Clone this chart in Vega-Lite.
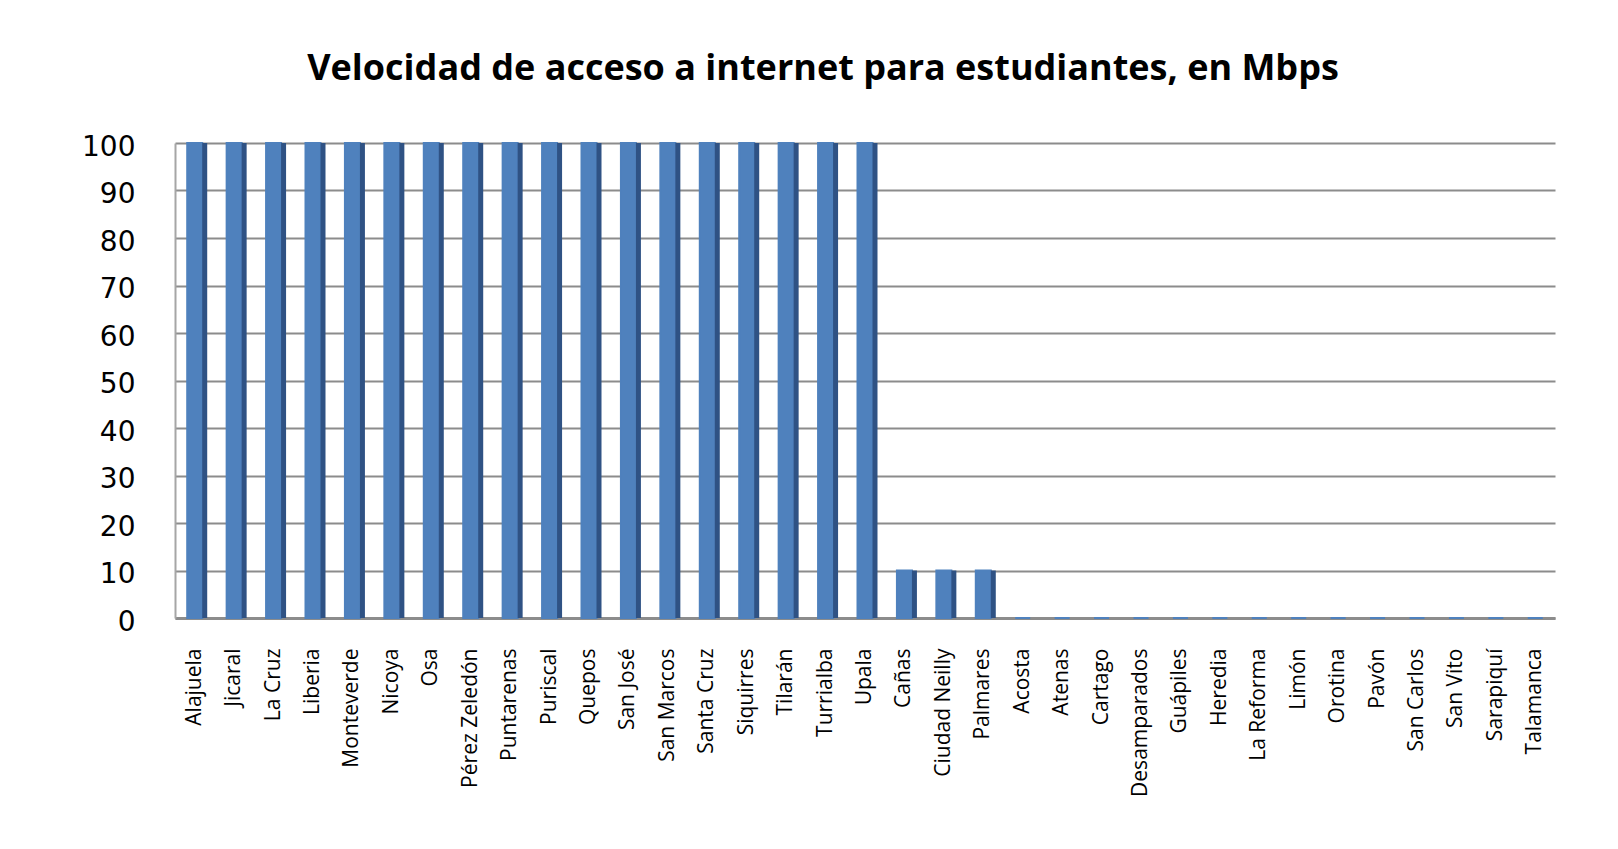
{
  "$schema": "https://vega.github.io/schema/vega-lite/v6.json",
  "autosize": {"type": "none"},
  "width": 1380,
  "height": 475,
  "padding": {"left": 175, "top": 143, "right": 63, "bottom": 231},
  "background": "white",
  "title": {
    "text": "Velocidad de acceso a internet para estudiantes, en Mbps",
    "font": "Open Sans",
    "fontSize": 36,
    "fontWeight": "bold",
    "color": "#000000",
    "anchor": "middle",
    "offset": 45,
    "dx": -42
  },
  "data": {
    "values": [
      {"sede": "Alajuela", "mbps": 100},
      {"sede": "Jicaral", "mbps": 100},
      {"sede": "La Cruz", "mbps": 100},
      {"sede": "Liberia", "mbps": 100},
      {"sede": "Monteverde", "mbps": 100},
      {"sede": "Nicoya", "mbps": 100},
      {"sede": "Osa", "mbps": 100},
      {"sede": "Pérez Zeledón", "mbps": 100},
      {"sede": "Puntarenas", "mbps": 100},
      {"sede": "Puriscal", "mbps": 100},
      {"sede": "Quepos", "mbps": 100},
      {"sede": "San José", "mbps": 100},
      {"sede": "San Marcos", "mbps": 100},
      {"sede": "Santa Cruz", "mbps": 100},
      {"sede": "Siquirres", "mbps": 100},
      {"sede": "Tilarán", "mbps": 100},
      {"sede": "Turrialba", "mbps": 100},
      {"sede": "Upala", "mbps": 100},
      {"sede": "Cañas", "mbps": 10},
      {"sede": "Ciudad Neilly", "mbps": 10},
      {"sede": "Palmares", "mbps": 10},
      {"sede": "Acosta", "mbps": 0},
      {"sede": "Atenas", "mbps": 0},
      {"sede": "Cartago", "mbps": 0},
      {"sede": "Desamparados", "mbps": 0},
      {"sede": "Guápiles", "mbps": 0},
      {"sede": "Heredia", "mbps": 0},
      {"sede": "La Reforma", "mbps": 0},
      {"sede": "Limón", "mbps": 0},
      {"sede": "Orotina", "mbps": 0},
      {"sede": "Pavón", "mbps": 0},
      {"sede": "San Carlos", "mbps": 0},
      {"sede": "San Vito", "mbps": 0},
      {"sede": "Sarapiquí", "mbps": 0},
      {"sede": "Talamanca", "mbps": 0}
    ]
  },
  "encoding": {
    "x": {
      "field": "sede",
      "type": "nominal",
      "sort": null,
      "scale": {"paddingInner": 0, "paddingOuter": 0},
      "axis": {
        "title": null,
        "labelAngle": -90,
        "labelFont": "Open Sans",
        "labelFontSize": 21,
        "labelColor": "#000000",
        "labelPadding": 30,
        "ticks": false,
        "domainColor": "#8c8c8c",
        "domainWidth": 3,
        "grid": false
      }
    },
    "y": {
      "field": "mbps",
      "type": "quantitative",
      "scale": {"domain": [0, 100], "nice": false},
      "axis": {
        "title": null,
        "values": [0, 10, 20, 30, 40, 50, 60, 70, 80, 90, 100],
        "labelFont": "DejaVu Sans",
        "labelFontSize": 28,
        "labelColor": "#000000",
        "labelPadding": 40,
        "labelOffset": 4,
        "ticks": false,
        "domainColor": "#a6a6a6",
        "domainWidth": 2,
        "gridColor": "#8c8c8c",
        "gridWidth": 2
      }
    }
  },
  "layer": [
    {
      "mark": {"type": "bar", "width": 15, "color": "#4f81bd", "stroke": "#4f81bd", "strokeWidth": 2}
    },
    {
      "mark": {"type": "bar", "width": 5, "xOffset": 10, "color": "#2f5284"}
    }
  ],
  "config": {
    "view": {"stroke": null}
  }
}
